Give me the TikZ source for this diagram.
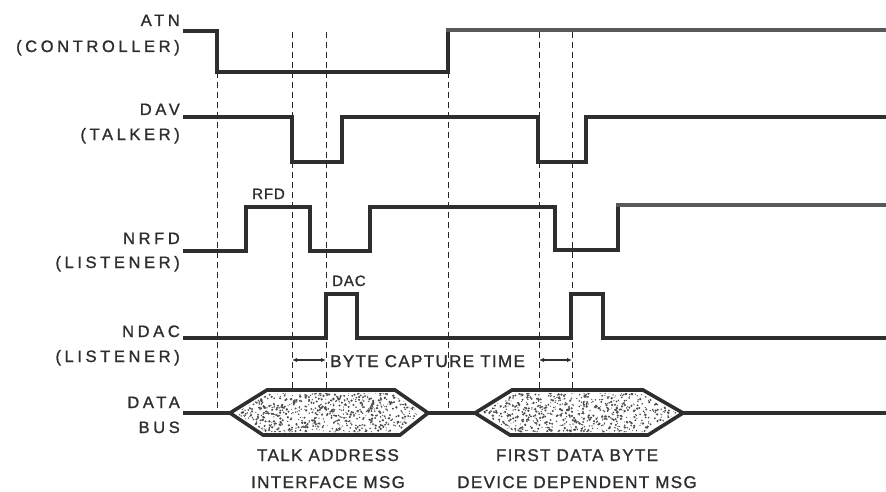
\documentclass[tikz,border=0pt]{standalone}
\usepackage{fontspec}
\setmainfont{Liberation Sans}
\newfontfamily\sigfont[LetterSpace=22,FakeBold=1.2]{Liberation Sans}
\newfontfamily\capfont[LetterSpace=8,FakeBold=1.2]{Liberation Sans}
\newfontfamily\smallfont[LetterSpace=6,FakeBold=1.2]{Liberation Sans}
\usetikzlibrary{arrows.meta}
\definecolor{ink}{HTML}{2E2E2E}
\definecolor{inkgrey}{HTML}{58595B}
\begin{document}
\begin{tikzpicture}[x=1pt,y=-1pt,
  siglabel/.style={font=\sigfont\fontsize{16.5}{16.5}\selectfont, anchor=base east, inner sep=0pt, text=ink},
  caplabel/.style={font=\capfont\fontsize{17}{17}\selectfont, inner sep=0pt, text=ink},
  tinylabel/.style={font=\smallfont\fontsize{15}{15}\selectfont, anchor=base west, inner sep=0pt, text=ink},
  wave/.style={draw=ink, line width=3.6pt, line join=miter},
  wavehigh/.style={draw=inkgrey, line width=4.5pt},
  guide/.style={draw=black!85, line width=1pt, dash pattern=on 6pt off 4pt},
  hexa/.style={draw=ink, line width=3.6pt, line join=miter, fill=white},
  capture/.style={draw=ink, line width=1.8pt, {Latex[length=5pt,width=4.5pt]}-{Latex[length=5pt,width=4.5pt]}}
]
\useasboundingbox (0,0) rectangle (886,492);

% guide lines
\draw[guide] (217,72) -- (217,413);
\draw[guide] (292,32) -- (292,390);
\draw[guide] (326,32) -- (326,390);
\draw[guide] (448,72) -- (448,413);
\draw[guide] (539,32) -- (539,390);
\draw[guide] (572,32) -- (572,390);

% signal labels
\node[siglabel] (atn) at (180,26) {ATN};
\node[siglabel] (atnsub) at (180,52) {(CONTROLLER)};
\node[siglabel] (dav) at (180,115) {DAV};
\node[siglabel] (davsub) at (180,140) {(TALKER)};
\node[siglabel] (nrfd) at (180,244) {NRFD};
\node[siglabel] (nrfdsub) at (180,268) {(LISTENER)};
\node[siglabel] (ndac) at (180,337) {NDAC};
\node[siglabel] (ndacsub) at (180,362) {(LISTENER)};
\node[siglabel] (data) at (180,408) {DATA};
\node[siglabel] (bus) at (180,433) {BUS};

% ATN
\draw[wave] (183,31) -- (217,31) -- (217,72) -- (448,72) -- (448,29);
\draw[wavehigh] (446,30) -- (886,30);
% DAV
\draw[wave] (183,117) -- (292,117) -- (292,162) -- (342,162) -- (342,117) -- (538,117) -- (538,162) -- (586,162) -- (586,117) -- (886,117);
% NRFD
\draw[wave] (183,251) -- (246,251) -- (246,207) -- (310,207) -- (310,251) -- (370,251) -- (370,207) -- (555,207) -- (555,250) -- (618,250) -- (618,204);
\draw[wavehigh] (616,205) -- (886,205);
% NDAC
\draw[wave] (183,338) -- (326,338) -- (326,294) -- (357,294) -- (357,338) -- (571,338) -- (571,294) -- (603,294) -- (603,338) -- (886,338);

% data bus
\draw[wave] (183,413) -- (232,413);
\draw[wave] (426,413) -- (477,413);
\draw[wave] (681,413) -- (886,413);
\path[hexa] (230,413) -- (267,390) -- (395,390) -- (428,413) -- (400,435) -- (263,435) -- cycle;
\path[hexa] (475,413) -- (512,390) -- (643,390) -- (683,413) -- (648,435) -- (510,435) -- cycle;
\pgfmathsetseed{7}
\begin{scope}
\clip (236,413) -- (270,393) -- (392,393) -- (422,413) -- (397,432) -- (266,432) -- cycle;
\foreach \i in {1,...,900}{
  \pgfmathsetmacro\xx{232+194*rnd}
  \pgfmathsetmacro\yy{391+43*rnd}
  \pgfmathsetmacro\rr{0.5+0.8*rnd}
  \fill[black!70] (\xx,\yy) circle (\rr pt);
}
\end{scope}
\begin{scope}
\clip (481,413) -- (515,393) -- (640,393) -- (677,413) -- (645,432) -- (513,432) -- cycle;
\foreach \i in {1,...,900}{
  \pgfmathsetmacro\xx{477+204*rnd}
  \pgfmathsetmacro\yy{391+43*rnd}
  \pgfmathsetmacro\rr{0.5+0.8*rnd}
  \fill[black!70] (\xx,\yy) circle (\rr pt);
}
\end{scope}

% small labels
\node[tinylabel] (rfd) at (252,199) {RFD};
\node[tinylabel] (dac) at (332,286) {DAC};

% byte capture time
\coordinate (bc1) at (292,360);
\coordinate (bc2) at (326,360);
\coordinate (bc3) at (539,360);
\coordinate (bc4) at (572,360);
\draw[capture] (bc1) -- (bc2);
\draw[capture] (bc3) -- (bc4);
\node[caplabel, anchor=base west] (bct) at (330,367) {BYTE CAPTURE TIME};

% bottom labels
\node[caplabel, anchor=base] (ta1) at (328,461) {TALK ADDRESS};
\node[caplabel, anchor=base] (ta2) at (328,488) {INTERFACE MSG};
\node[caplabel, anchor=base] (fd1) at (577,461) {FIRST DATA BYTE};
\node[caplabel, anchor=base] (fd2) at (577,488) {DEVICE DEPENDENT MSG};
\end{tikzpicture}
\end{document}
